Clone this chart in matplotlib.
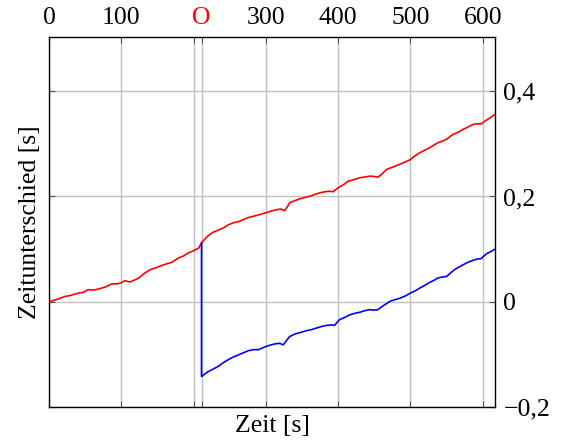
import matplotlib
matplotlib.use("Agg")
import matplotlib.pyplot as plt

# Zeitunterschied (rot): gesamte Messung
t_red = [0, 10, 22, 30, 41, 48, 54, 61, 68, 78, 87, 95, 100, 105, 112, 118, 124, 133,
         142, 149, 156, 163, 170, 179, 186, 193, 200, 207, 211, 219, 227, 234, 241, 248,
         255, 262, 269, 276, 283, 290, 300, 307, 315, 321, 326, 330, 333, 340, 347, 354, 361,
         368, 375, 382, 388, 393, 400, 407, 414, 422, 430, 437, 444, 450, 455, 461, 467,
         476, 485, 492, 500, 506, 513, 520, 527, 533, 538, 544, 550, 555, 559, 566, 573,
         580, 587, 593, 598, 605, 611, 617]
y_red = [0.000, 0.004, 0.010, 0.012, 0.0165, 0.018, 0.023, 0.022, 0.024, 0.028, 0.034, 0.034,
         0.036, 0.040, 0.0375, 0.041, 0.045, 0.055, 0.062, 0.065, 0.069, 0.072, 0.075, 0.083,
         0.087, 0.093, 0.097, 0.102, 0.112, 0.124, 0.132, 0.136, 0.140, 0.146, 0.150, 0.152,
         0.156, 0.160, 0.1625, 0.165, 0.169, 0.172, 0.175, 0.176, 0.173, 0.181, 0.188, 0.192,
         0.1956, 0.198, 0.2006, 0.204, 0.207, 0.209, 0.210, 0.209, 0.2165, 0.222, 0.229, 0.232,
         0.2356, 0.237, 0.2387, 0.238, 0.2366, 0.243, 0.2514, 0.256, 0.261, 0.265, 0.270, 0.277,
         0.283, 0.288, 0.293, 0.298, 0.302, 0.305, 0.3086, 0.314, 0.318, 0.322, 0.3276, 0.332,
         0.337, 0.338, 0.338, 0.345, 0.350, 0.356]

# Zeitunterschied (blau): ab dem Sprung bei O
t_blue = [211, 211.01, 220, 227, 234, 241, 248, 255, 262, 269, 276, 283, 290, 300, 307, 313,
          319, 324, 329, 333, 341, 349, 356, 363, 370, 377, 384, 391, 395, 402, 409, 416, 423,
          430, 437, 444, 450, 455, 463, 472, 479, 486, 493, 500, 507, 513, 520, 527, 533, 538,
          544, 550, 555, 561, 570, 578, 585, 592, 598, 605, 611, 617]
y_blue = [0.112, -0.142, -0.133, -0.128, -0.123, -0.116, -0.110, -0.105, -0.101, -0.097,
          -0.093, -0.091, -0.091, -0.085, -0.082, -0.080, -0.079, -0.082, -0.073, -0.066,
          -0.061, -0.058, -0.055, -0.053, -0.050, -0.047, -0.045, -0.044, -0.045, -0.034,
          -0.030, -0.025, -0.022, -0.020, -0.017, -0.015, -0.016, -0.015, -0.007, 0.001, 0.004,
          0.007, 0.011, 0.0165, 0.021, 0.026, 0.031, 0.037, 0.041, 0.045, 0.047, 0.048, 0.054,
          0.061, 0.068, 0.074, 0.078, 0.081, 0.082, 0.091, 0.095, 0.100]

x_ticks = [0, 100, 200, 211, 300, 400, 500, 600]
x_ticklabels = ["0", "100", "", "O", "300", "400", "500", "600"]
y_ticks = [-0.2, 0.0, 0.2, 0.4]
y_ticklabels = ["\u22120,2", "0", "0,2", "0,4"]

plt.rcParams["font.family"] = ["Liberation Serif", "DejaVu Serif"]

fig = plt.figure(figsize=(5.67, 4.41), dpi=100)
ax = fig.add_axes([49 / 567, 1 - 407 / 441, (495 - 49) / 567, (407 - 37) / 441])

ax.plot(t_red, y_red, color="red", lw=1.2, zorder=3)
ax.plot(t_blue, y_blue, color="blue", lw=1.2, zorder=3)

ax.set_xlim(0, 617)
ax.set_ylim(-0.2, 0.503)

ax.set_xticks(x_ticks)
ax.set_xticklabels(x_ticklabels)
ax.set_yticks(y_ticks)
ax.set_yticklabels(y_ticklabels)

ax.xaxis.tick_top()
ax.yaxis.tick_right()
ax.tick_params(axis="both", which="both", direction="in", length=4, width=0.8,
               color="#555555", labelsize=18.5, top=True, bottom=True, left=True,
               right=True, labeltop=True, labelbottom=False, labelright=True,
               labelleft=False, pad=6)
for lbl in ax.get_xticklabels():
    if lbl.get_text() == "O":
        lbl.set_color("red")

ax.grid(True, color="#c0c0c0", lw=1.0, zorder=0)
ax.set_axisbelow(True)
for s in ax.spines.values():
    s.set_color("black")
    s.set_linewidth(1.0)

ax.xaxis.set_label_position("bottom")
ax.set_xlabel("Zeit [s]", fontsize=18.5, labelpad=6)
ax.yaxis.set_label_position("left")
ax.set_ylabel("Zeitunterschied [s]", fontsize=18.5, labelpad=6)

fig.savefig("out.png", dpi=100)
